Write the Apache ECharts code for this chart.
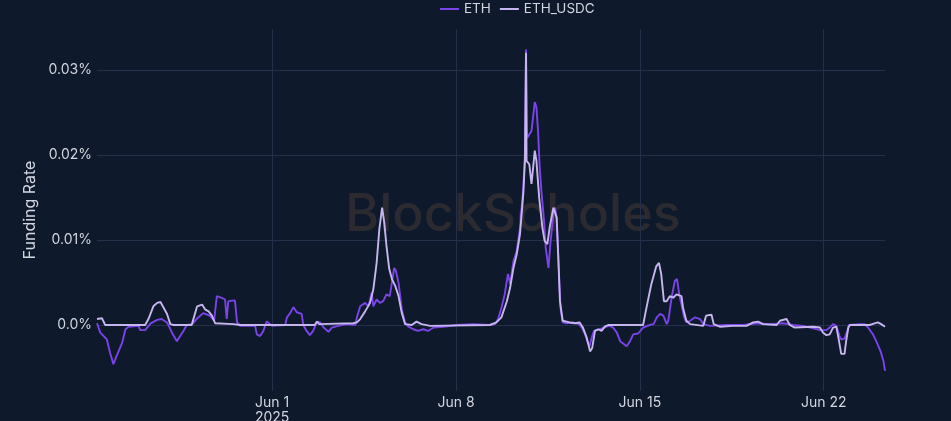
<!DOCTYPE html>
<html>
<head>
<meta charset="utf-8">
<script src="https://cdn.jsdelivr.net/npm/echarts@6/dist/echarts.min.js"></script>
<style>
html,body{margin:0;padding:0;background:#0f192c;}
#chart{width:951px;height:421px;}
</style>
</head>
<body>
<div id="chart"></div>
<script>
// Hours since 2025-05-25 08:00 UTC, funding rate in percent
const seriesNames = ['ETH', 'ETH_USDC'];
const ethHours = [0,3,9,12,15,18,23,26,29,38,39.5,44,49,55,59,64,68.5,73,76,79,82,87,91,97,103,107,109.5,114,117,118.5,120,126,128,131,144.5,146,149,152,155,160,172,173.5,176,179.5,182.5,187,188.5,191.5,194.5,197.5,201,204,207,211.5,214.5,220.5,228,236,237.5,240.5,245,248,251,252.5,255.5,258.5,261.5,264.5,267.5,269.5,271.5,273,275.5,278.5,281.5,284.5,289,293.5,298,302.5,307.5,316.5,328.5,344,359,363.5,366.5,369.5,372.5,375.5,377.5,380.5,383.5,386.5,389.5,391,392,393,397,400,401.5,403,404.5,406,408.5,410,412.5,414.5,417,418.5,420,421.5,423.5,425.5,429,435,440,443,446,448,450,452,454,459.5,465.5,468.5,471.5,475,478,484,487,490,494.5,499,505,508.5,511.5,514.5,517.5,520.5,522,525,528,530,532,534,536.5,538.5,542,546.5,551,554,560,575,590.5,602.5,614.5,627,636,645,654.5,660.5,666.5,669.5,672.5,675.5,678.5,680,683,685.5,687,697,701.5,704.5,709,712,713.5,716,718.5,720];
const ethRate = [0.0002,-0.0009,-0.0017,-0.0033,-0.0046,-0.0036,-0.0021,-0.0005,-0.0002,-0.0001,-0.0006,-0.0006,0.0002,0.0006,0.0007,0.0003,-0.0009,-0.0019,-0.0013,-0.0007,0,0.0001,0.0007,0.0014,0.0011,0.0005,0.0034,0.0032,0.003,0.0007,0.0028,0.0029,0.0003,-0.0001,-0.0001,-0.0011,-0.0013,-0.0007,0.0004,-0.0001,0,0.0009,0.0013,0.0021,0.0015,0.0013,0,-0.0007,-0.0012,-0.0007,0.0004,0.0003,-0.0003,-0.0008,-0.0003,-0.0001,0.0001,0,0.0009,0.0022,0.0026,0.0022,0.0038,0.0022,0.003,0.0026,0.0028,0.0036,0.0034,0.005,0.0067,0.0064,0.005,0.0018,0.0003,-0.0002,-0.0005,-0.0007,-0.0005,-0.0007,-0.0003,-0.0002,0,0.0001,0,0.0001,0.0007,0.002,0.0036,0.006,0.0048,0.0075,0.0087,0.0114,0.0162,0.0201,0.0324,0.022,0.0228,0.0262,0.0256,0.0228,0.0185,0.0158,0.0122,0.0091,0.0067,0.0099,0.013,0.0138,0.0126,0.0079,0.002,0.0003,0.0002,0.0003,0.0001,-0.0003,-0.0011,-0.0019,-0.0025,-0.0015,-0.0007,-0.0005,-0.0002,-0.0001,-0.0003,-0.0009,-0.0019,-0.0025,-0.0019,-0.0011,-0.001,-0.0003,0,0.0001,0.0009,0.0013,0.0011,0.0001,0.0005,0.0032,0.0052,0.0054,0.0036,0.0024,0.0009,0.0003,0.0005,0.0009,0.0007,0.0001,-0.0001,0,0,0.0002,0.0001,0.0002,0,-0.0001,-0.0004,-0.0006,-0.0006,-0.0003,0.0001,-0.0001,-0.0013,-0.0017,-0.0016,-0.0007,0,0.0001,0.0001,-0.0003,-0.0011,-0.0019,-0.0021,-0.0031,-0.0042,-0.0054];
const usdcHours = [0,1.5,4.5,7.5,44,47,51.5,55,56,58,61,64,67,70,86.5,89,91.5,96,99,102,105,108,124.5,131,199,201,203,234,237.5,240.5,245,249.5,252.5,255.5,258,260.5,262.5,264.5,267,269.5,272.5,275.5,278.5,281.5,287.5,292,296.5,304.5,359,365,369.5,374.5,377.5,380.5,383.5,386.5,389.5,391,392,392.5,395,397,398.5,400,401.5,404,407,409,411.5,413.5,417,418.5,420,421.5,423,425.5,432,436.5,441,444,447.5,450.5,452.5,455,458,461,464,467,499,502,506.5,511,513.5,515.5,518,520.5,523.5,526.5,529.5,534,535.5,538.5,542,554,556.5,561.5,563.5,569,581,593.5,599.5,604,608.5,621,624,625.5,630,633,637.5,654.5,660.5,663.5,666.5,669.5,672.5,675.5,678,680,683,684.5,686.5,688,706,710.5,713.5,716.5,720];
const usdcRate = [0.0007,0.0009,0.0008,0,0,0.0007,0.0022,0.0026,0.0024,0.0027,0.002,0.0013,0.0001,0,0,0.0011,0.0022,0.0024,0.0018,0.0016,0.0011,0.0002,0.0001,0,0,0.0004,0.0001,0.0002,0.0003,0.0007,0.0016,0.0026,0.0042,0.0073,0.0113,0.0138,0.012,0.0093,0.0066,0.0054,0.0046,0.0034,0.0014,0.0001,0,0.0004,0.0001,-0.0001,0,0.0003,0.0009,0.0028,0.0044,0.0067,0.0083,0.0107,0.0154,0.0193,0.032,0.0193,0.0189,0.0166,0.0185,0.0205,0.0193,0.015,0.0114,0.0099,0.0095,0.0114,0.0138,0.014,0.0126,0.0079,0.0028,0.0005,0.0003,0.0002,0.0003,-0.0003,-0.0015,-0.0031,-0.0027,-0.0007,-0.0005,-0.0007,-0.0002,0,0,0.002,0.0048,0.0069,0.0073,0.006,0.0028,0.0028,0.0034,0.0032,0.0036,0.0034,0.002,0.0005,0.0001,-0.0001,0.0011,0.0012,0.0001,-0.0002,-0.0001,-0.0001,0.0003,0.0004,0.0001,0,0.0005,0.0007,0.0007,0,-0.0003,-0.0002,-0.0003,-0.0009,-0.0012,-0.0011,-0.0003,-0.0002,-0.0019,-0.0034,-0.0034,-0.0019,-0.0003,0,0,0.0002,0.0003,0.0001,-0.0002];
const yTicks = [0, 0.01, 0.02, 0.03];
const xTickDates = ['2025-06-01', '2025-06-08', '2025-06-15', '2025-06-22'];

const startMs = Date.UTC(2025, 4, 25, 8);
const endMs = Date.UTC(2025, 5, 24, 8);
const HOUR = 3600 * 1000;
const toData = (hrs, vals) => hrs.map((h, i) => [startMs + h * HOUR, vals[i]]);
const xTicks = xTickDates.map(s => Date.parse(s + 'T00:00:00Z'));
const months = ['Jan','Feb','Mar','Apr','May','Jun','Jul','Aug','Sep','Oct','Nov','Dec'];

const chart = echarts.init(document.getElementById('chart'));
const textColor = '#d2d6de';
const gridColor = '#243049';
chart.setOption({
  backgroundColor: '#0f192c',
  animation: false,
  textStyle: { fontFamily: 'Inter, "Noto Sans", sans-serif' },
  graphic: [{
    type: 'text', left: 345, top: 189, z: 0, silent: true,
    style: { text: 'BlockScholes', fontSize: 52, fontWeight: 500, fill: '#2a2a30', fontFamily: 'Inter, "Noto Sans", sans-serif' }
  }],
  legend: {
    top: 0, left: 440, padding: [2, 0], itemWidth: 19, itemHeight: 2, icon: 'rect', itemGap: 9,
    textStyle: { color: textColor, fontSize: 13.5 },
    data: seriesNames
  },
  grid: { left: 97, right: 66, top: 29, bottom: 30, containLabel: false, outerBoundsMode: 'none' },
  xAxis: {
    type: 'value', min: startMs, max: endMs, scale: true,
    axisLine: { show: false },
    axisTick: { show: false, customValues: xTicks },
    splitLine: { show: true, lineStyle: { color: gridColor, width: 1 } },
    axisLabel: {
      customValues: xTicks, color: textColor, fontSize: 14, margin: 4, lineHeight: 15,
      formatter: v => {
        const d = new Date(v);
        let s = months[d.getUTCMonth()] + ' ' + d.getUTCDate();
        if (d.getUTCDate() === 1) s += '\n' + d.getUTCFullYear();
        return s;
      }
    }
  },
  yAxis: {
    type: 'value', min: -0.00776, max: 0.0348,
    name: 'Funding Rate', nameLocation: 'middle', nameGap: 59, nameRotate: 90,
    nameTextStyle: { color: textColor, fontSize: 16 },
    axisLine: { show: false },
    axisTick: { show: false, customValues: yTicks },
    splitLine: { show: true, lineStyle: { color: gridColor, width: 1 } },
    axisLabel: {
      customValues: yTicks, color: textColor, fontSize: 14, margin: 5,
      formatter: v => (Math.abs(v) < 1e-9 ? '0.0%' : v.toFixed(2) + '%')
    }
  },
  series: [
    { name: 'ETH', type: 'line', showSymbol: false, symbol: 'none', data: toData(ethHours, ethRate),
      lineStyle: { color: '#7a44e8', width: 1.9 }, itemStyle: { color: '#7a44e8' } },
    { name: 'ETH_USDC', type: 'line', showSymbol: false, symbol: 'none', data: toData(usdcHours, usdcRate),
      lineStyle: { color: '#c7b6ee', width: 1.9 }, itemStyle: { color: '#c7b6ee' } }
  ]
});
</script>
</body>
</html>
